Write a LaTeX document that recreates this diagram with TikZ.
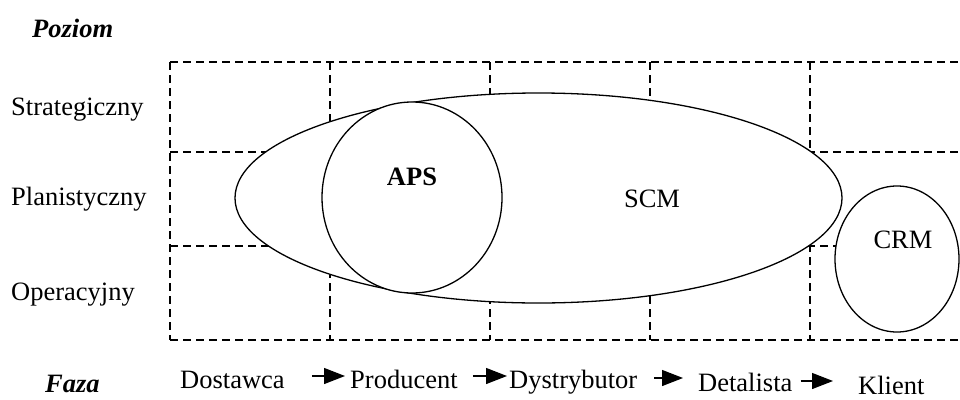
\documentclass[tikz,border=0pt]{standalone}
\usepackage{fontspec}
\setmainfont{Liberation Serif}
\usetikzlibrary{arrows.meta}
\tikzset{>={Triangle[length=21pt,width=16pt]}}

\begin{document}
\begin{tikzpicture}[x=1pt, y=-1pt,
  txt/.style={inner sep=0pt, font=\fontsize{26.5}{30}\selectfont},
  cell/.style={line width=1.5pt, dash pattern=on 8pt off 5pt},
  blob/.style={line width=1.3pt, fill=white},
  flow/.style={->, line width=1.3pt}]
\useasboundingbox (0,0) rectangle (960,399);
% dashed table
\foreach \x in {170,330,...,810}
\draw[cell] (\x,62) -- (\x,340);
\foreach \y in {62,152,246,340}
\draw[cell] (170,\y) -- (960,\y);
% systems
\draw[blob] (538.5,198) ellipse [x radius=303.5, y radius=105];
\draw[blob] (412,197.5) ellipse [x radius=90, y radius=95.5];
\draw[blob] (897,259) ellipse [x radius=62, y radius=73];
\node[txt, anchor=base] (aps) at (412,185) {\bfseries APS};
\node[txt, anchor=base] (scm) at (652,207) {SCM};
\node[txt, anchor=base] (crm) at (903,248) {CRM};
% levels
\node[txt, anchor=base west] (poz) at (32,37) {\bfseries\itshape Poziom};
\node[txt, anchor=base west] (str) at (11,115) {Strategiczny};
\node[txt, anchor=base west] (pla) at (11,205) {Planistyczny};
\node[txt, anchor=base west] (ope) at (11,300) {Operacyjny};
% phases
\node[txt, anchor=base west] (faz) at (45,392) {\bfseries\itshape Faza};
\node[txt, anchor=base west] (dost) at (180,388) {Dostawca};
\node[txt, anchor=base west] (prod) at (350,388) {Producent};
\node[txt, anchor=base west] (dyst) at (509,388) {Dystrybutor};
\node[txt, anchor=base west] (det) at (698,391) {Detalista};
\node[txt, anchor=base west] (kli) at (858,394) {Klient};
\draw[flow, shorten <=27pt, shorten >=5pt] ([yshift=12pt]dost.base east) -- ([yshift=12pt]prod.base west);
\draw[flow, shorten <=15pt, shorten >=2pt] ([yshift=12pt]prod.base east) -- ([yshift=12pt]dyst.base west);
\draw[flow, shorten <=17pt, shorten >=15pt] ([yshift=10pt]dyst.base east) -- ([yshift=13pt]det.base west);
\draw[flow, shorten <=8pt, shorten >=25pt] ([yshift=10pt]det.base east) -- ([yshift=13pt]kli.base west);
\end{tikzpicture}
\end{document}
